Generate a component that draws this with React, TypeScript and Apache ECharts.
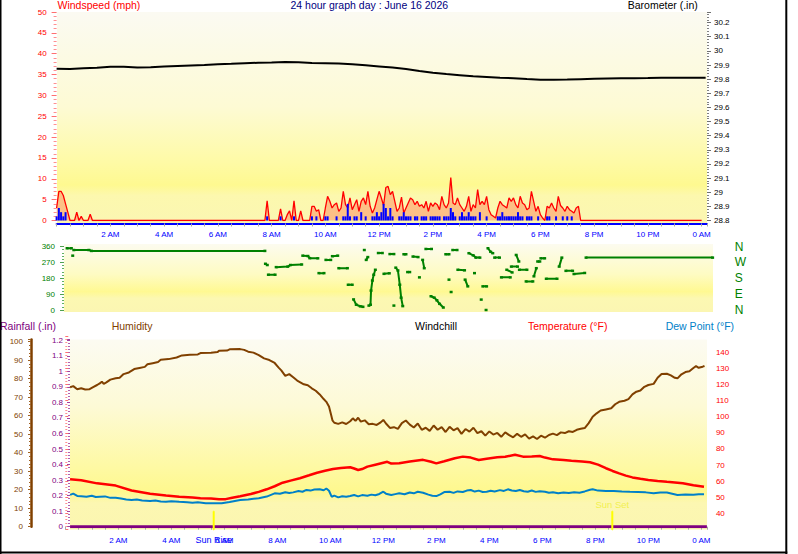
import React, { useEffect, useRef } from 'react';
import * as echarts from 'echarts';

const FONT = '"Liberation Sans", Arial, sans-serif';

// ---------- x axis tick labels ----------
const tickHours = [2, 4, 6, 8, 10, 12, 14, 16, 18, 20, 22, 24];
const tickLabels = ['2 AM', '4 AM', '6 AM', '8 AM', '10 AM', '12 PM', '2 PM', '4 PM', '6 PM', '8 PM', '10 PM', '0 AM'];

// ---------- wind (5 minute samples, one row per hour) ----------
const windStepHours = 5 / 60;
const gustByHour: number[][] = [
  [3, 7, 7, 6, 4, 2, 0, 0, 0, 2, 0, 1],
  [0, 0, 0, 1.5, 0, 0, 0, 0, 0, 0, 0, 0],
  [0, 0, 0, 0, 0, 0, 0, 0, 0, 0, 0, 0],
  [0, 0, 0, 0, 0, 0, 0, 0, 0, 0, 0, 0],
  [0, 0, 0, 0, 0, 0, 0, 0, 0, 0, 0, 0],
  [0, 0, 0, 0, 0, 0, 0, 0, 0, 0, 0, 0],
  [0, 0, 0, 0, 0, 0, 0, 0, 0, 0, 0, 0],
  [0, 0, 0, 0, 0, 0, 0, 0, 0, 0, 4.7, 0],
  [0, 0, 0, 0, 2.8, 0, 0, 1.4, 2.3, 0, 4.7, 0],
  [0, 2.3, 0, 0, 0, 0, 3.4, 3.4, 2.2, 2.6, 0, 0],
  [3, 5.8, 4.6, 3, 3.8, 4.2, 2.2, 3, 7, 3.8, 3, 5.4],
  [2.6, 3.8, 5, 2.2, 4.6, 5.4, 3.8, 7, 3.4, 1.8, 3, 5],
  [7, 5.4, 3.6, 7.9, 8.2, 6.2, 7, 4.6, 2.2, 3, 5.6, 1.8],
  [3, 4.2, 5.4, 5, 3.8, 4.6, 3.4, 3.8, 3, 4.6, 2.2, 4.2],
  [3.4, 4.2, 3.8, 2.6, 5.8, 3.8, 3, 4.2, 10.3, 4.2, 3.8, 5.4],
  [3.8, 3, 2.2, 3.4, 5.8, 2.2, 3.8, 3, 7.4, 3.8, 4.6, 3.8],
  [5.8, 2.6, 1.4, 1, 0.6, 3, 4.6, 3.8, 3.4, 3, 5.4, 4.6],
  [5.4, 3.8, 3, 5.8, 4.2, 3.8, 2.6, 3, 7, 4.6, 2.2, 3.4],
  [1.4, 0.6, 0, 3.4, 3, 4.2, 3, 2.2, 5.8, 3.6, 3, 2.2],
  [3.4, 2.6, 2.2, 1.8, 3, 3.4, 0, 0, 0, 0, 0, 0],
  [0, 0, 0, 0, 0, 0, 0, 0, 0, 0, 0, 0],
  [0, 0, 0, 0, 0, 0, 0, 0, 0, 0, 0, 0],
  [0, 0, 0, 0, 0, 0, 0, 0, 0, 0, 0, 0],
  [0, 0, 0, 0, 0, 0, 0, 0, 0, 0, 0, 0, 0],
];
const avgByHour: number[][] = [
  [1, 3, 2, 1, 2, 0, 0, 0, 0, 0, 0, 0],
  [0, 0, 0, 0, 0, 0, 0, 0, 0, 0, 0, 0],
  [0, 0, 0, 0, 0, 0, 0, 0, 0, 0, 0, 0],
  [0, 0, 0, 0, 0, 0, 0, 0, 0, 0, 0, 0],
  [0, 0, 0, 0, 0, 0, 0, 0, 0, 0, 0, 0],
  [0, 0, 0, 0, 0, 0, 0, 0, 0, 0, 0, 0],
  [0, 0, 0, 0, 0, 0, 0, 0, 0, 0, 0, 0],
  [0, 0, 0, 0, 0, 0, 0, 0, 0, 0, 1, 0],
  [0, 0, 0, 0, 1, 0, 0, 0, 0, 0, 1, 0],
  [0, 0, 0, 0, 0, 0, 1, 0, 1, 0, 0, 0],
  [1, 1, 0, 0, 0, 1, 0, 0, 1, 1, 4, 1],
  [0, 1, 1, 0, 2, 0, 1, 0, 0, 1, 1, 2],
  [1, 2, 4, 3, 1, 3, 1, 0, 0, 1, 1, 2],
  [1, 1, 1, 0, 1, 1, 0, 1, 1, 1, 0, 1],
  [1, 1, 1, 1, 0, 1, 1, 1, 3, 2, 1, 0],
  [1, 2, 1, 1, 2, 1, 1, 1, 0, 2, 0, 0],
  [1, 0, 0, 0, 0, 1, 1, 2, 1, 1, 1, 1],
  [1, 1, 2, 1, 1, 0, 1, 1, 1, 0, 0, 1],
  [0, 0, 0, 1, 1, 0, 0, 1, 0, 0, 1, 0],
  [1, 0, 1, 0, 0, 0, 0, 0, 0, 0, 0, 0],
  [0, 0, 0, 0, 0, 0, 0, 0, 0, 0, 0, 0],
  [0, 0, 0, 0, 0, 0, 0, 0, 0, 0, 0, 0],
  [0, 0, 0, 0, 0, 0, 0, 0, 0, 0, 0, 0],
  [0, 0, 0, 0, 0, 0, 0, 0, 0, 0, 0, 0],
];

// ---------- barometer [hour, inHg] ----------
const barometer: number[][] = [
  [0, 29.874], [0.5, 29.872], [1, 29.877], [1.5, 29.881], [2, 29.888], [2.5, 29.887], [3, 29.882],
  [3.5, 29.884], [4, 29.889], [4.5, 29.893], [5, 29.897], [5.5, 29.9], [6, 29.906], [6.5, 29.909],
  [7, 29.913], [7.5, 29.916], [8, 29.918], [8.5, 29.922], [9, 29.92], [9.5, 29.914], [10, 29.912],
  [10.5, 29.91], [11, 29.905], [11.5, 29.898], [12, 29.89], [12.5, 29.882], [13, 29.872], [13.5, 29.858],
  [14, 29.846], [14.5, 29.836], [15, 29.828], [15.5, 29.82], [16, 29.815], [16.5, 29.81], [17, 29.807],
  [17.5, 29.801], [18, 29.796], [18.5, 29.795], [19, 29.797], [19.5, 29.8], [20, 29.802], [20.5, 29.804],
  [21, 29.806], [21.5, 29.807], [22, 29.808], [22.5, 29.81], [23, 29.809], [23.5, 29.81], [24, 29.81], [24.15, 29.81],
];

// ---------- wind direction segments [hour, degrees] ----------
const dirSegments: number[][][] = [
  [[0.39, 350], [0.55, 350]],
  [[0.6, 308]],
  [[0.64, 340], [1.2, 340], [1.3, 335], [7.75, 335]],
  [[7.77, 262], [7.84, 255]],
  [[7.88, 200], [8.13, 200]],
  [[8.17, 243], [8.6, 246], [8.7, 255], [9.12, 258]],
  [[9.16, 308], [9.35, 306], [9.42, 294], [9.72, 293]],
  [[9.76, 209], [9.95, 209]],
  [[10.02, 284], [10.2, 284]],
  [[10.26, 305], [10.46, 308]],
  [[10.5, 237], [10.82, 237]],
  [[10.85, 143], [11.0, 143]],
  [[11.05, 60], [11.15, 30], [11.3, 21], [11.4, 18]],
  [[11.45, 340]],
  [[11.52, 284], [11.58, 300]],
  [[11.62, 25], [11.68, 30], [11.7, 110], [11.75, 167], [11.8, 200], [11.86, 228]],
  [[11.97, 323], [12.12, 323]],
  [[12.18, 205], [12.38, 208]],
  [[12.4, 317], [12.55, 317]],
  [[12.55, 25]],
  [[12.62, 240], [12.7, 224], [12.77, 143], [12.82, 70], [12.88, 22]],
  [[12.92, 316], [13.0, 316]],
  [[13.06, 215], [13.14, 215]],
  [[13.26, 303], [13.45, 300]],
  [[13.5, 185]],
  [[13.62, 284], [13.68, 237]],
  [[13.74, 346], [13.95, 346]],
  [[13.93, 78], [14.05, 70], [14.15, 55], [14.25, 35], [14.39, 14]],
  [[14.48, 316], [14.6, 316]],
  [[14.6, 172]],
  [[14.68, 102]],
  [[14.74, 340], [14.9, 340]],
  [[14.93, 228], [15.18, 225]],
  [[15.2, 172], [15.3, 134]],
  [[15.34, 322], [15.5, 310], [15.6, 297], [15.75, 297]],
  [[15.55, 209]],
  [[15.8, 59]],
  [[15.86, 134], [16.0, 134]],
  [[15.98, 0]],
  [[16.05, 350], [16.15, 330], [16.23, 322]],
  [[16.3, 297], [16.48, 297]],
  [[16.55, 185], [16.88, 185]],
  [[16.75, 228], [16.95, 213]],
  [[16.92, 246], [17.15, 246]],
  [[17.1, 312], [17.2, 275]],
  [[17.22, 228], [17.5, 228]],
  [[17.47, 162], [17.72, 162]],
  [[17.76, 191], [17.85, 237]],
  [[17.9, 275], [17.98, 275]],
  [[18.02, 293], [18.16, 293]],
  [[18.22, 177], [18.62, 177]],
  [[18.7, 246], [18.8, 297]],
  [[18.95, 222], [19.2, 222]],
  [[19.25, 204], [19.65, 210]],
  [[19.7, 297], [24.41, 297]],
];
const dirLetterValues = [0, 90, 180, 270, 360];
const dirLetters = ['N', 'E', 'S', 'W', 'N'];

// ---------- lower panel ----------
const rainfall: number[][] = [
  [0.18, 0], [2, 0], [4, 0], [6, 0], [8, 0], [10, 0], [12, 0], [14, 0], [16, 0], [18, 0], [20, 0], [22, 0], [24, 0], [24.21, 0],
];
const humidity: number[][] = [
  [0.18, 75.4], [0.3, 76], [0.45, 74.3], [0.6, 74.8], [0.75, 74.2], [0.9, 74.3], [1.05, 75.5], [1.2, 76.6], [1.3, 77.5],
  [1.38, 78.4], [1.45, 77.2], [1.55, 78], [1.7, 79.5], [1.9, 80.2], [2.05, 80.5], [2.2, 82.5], [2.4, 83.4], [2.6, 85.2],
  [2.8, 85.8], [3.0, 86.4], [3.1, 87.8], [3.3, 88.4], [3.5, 89], [3.6, 90.2], [3.9, 90.6], [4.2, 91.5], [4.4, 92.6],
  [4.7, 92.9], [5.0, 93.1], [5.1, 93.9], [5.5, 94.1], [5.75, 94.4], [5.8, 95.1], [6.1, 95.2], [6.2, 95.9], [6.6, 96],
  [6.75, 95.6], [6.9, 94.6], [7.1, 94.1], [7.3, 92.8], [7.5, 91], [7.7, 90.1], [7.9, 88.5], [8.05, 86], [8.15, 84.5],
  [8.3, 81.5], [8.45, 82.5], [8.6, 80.8], [8.75, 79], [8.85, 78.2], [9.0, 77], [9.15, 76.5], [9.3, 74.8], [9.45, 73.5],
  [9.6, 71.5], [9.75, 69], [9.85, 67.5], [9.95, 65], [10.02, 61], [10.08, 57.5], [10.15, 56.2], [10.3, 55.6],
  [10.45, 56.4], [10.6, 55.5], [10.75, 57], [10.85, 58.6], [10.95, 57.2], [11.05, 58.9], [11.15, 56.8], [11.3, 57.5],
  [11.45, 55.4], [11.6, 55.6], [11.75, 55], [11.9, 56.4], [12.0, 57.7], [12.1, 55.8], [12.25, 53.4], [12.4, 53.8],
  [12.55, 52.9], [12.7, 56], [12.85, 57.4], [13.0, 55.2], [13.15, 53.6], [13.3, 55.8], [13.45, 52.4], [13.6, 53.5],
  [13.75, 51.8], [13.9, 54.7], [14.05, 52.4], [14.2, 53.8], [14.35, 51.2], [14.5, 54], [14.65, 52.1], [14.8, 53.3],
  [14.95, 50.2], [15.1, 52.8], [15.25, 51.4], [15.4, 53.5], [15.55, 50.6], [15.7, 51.6], [15.85, 49.2], [16.0, 51.5],
  [16.15, 49.8], [16.3, 50.7], [16.45, 48.6], [16.6, 51], [16.75, 49.5], [16.9, 48.3], [17.05, 50.2], [17.2, 48.6],
  [17.35, 49.9], [17.5, 47.6], [17.65, 48.8], [17.8, 47.4], [17.95, 49.2], [18.1, 48.1], [18.25, 49.6], [18.4, 50.3],
  [18.55, 49.5], [18.7, 51], [18.85, 50.6], [19.0, 51.6], [19.15, 51.2], [19.3, 52.4], [19.45, 52.9], [19.6, 53.3],
  [19.75, 56], [19.9, 59.4], [20.05, 61.3], [20.2, 62.8], [20.4, 63.4], [20.6, 64], [20.75, 66.2], [20.9, 67.5],
  [21.1, 68.1], [21.25, 69], [21.4, 71.5], [21.55, 73], [21.7, 73.6], [21.85, 75.6], [22.0, 76.6], [22.2, 77.2],
  [22.35, 80.5], [22.5, 82.5], [22.7, 82.7], [22.85, 81.8], [23.0, 80.5], [23.1, 80.2], [23.25, 82.4], [23.4, 83.6],
  [23.55, 84], [23.7, 85.8], [23.8, 86.8], [23.9, 85.9], [24.05, 86.5], [24.12, 86.9],
];
const temperature: number[][] = [
  [0.18, 61.1], [0.6, 60.5], [1.2, 58.6], [1.9, 57.2], [2.5, 54.2], [3.2, 52.2], [3.8, 51.1], [4.3, 50.3], [4.8, 49.8],
  [5.1, 49.4], [5.5, 49.2], [5.8, 48.7], [6.05, 48.8], [6.3, 49.7], [6.6, 50.6], [7.0, 52], [7.3, 53.3], [7.6, 54.9],
  [7.9, 56.8], [8.2, 59], [8.5, 60.3], [8.85, 61.8], [9.2, 63.6], [9.5, 65.2], [9.8, 66.4], [10.1, 67.5], [10.4, 68.1],
  [10.75, 68.6], [10.9, 67.8], [11.05, 66.9], [11.2, 67.5], [11.4, 69], [11.7, 70.2], [12.0, 71.4], [12.15, 72],
  [12.3, 70.9], [12.6, 71.1], [13.0, 72.2], [13.5, 73.2], [13.8, 72], [14.0, 71], [14.3, 72.3], [14.7, 74.2],
  [15.0, 75.2], [15.3, 74.6], [15.6, 73.1], [15.9, 73.9], [16.3, 74.8], [16.6, 75.1], [16.97, 76.4], [17.27, 75.2],
  [17.6, 75.3], [17.9, 75.6], [18.1, 74.6], [18.4, 73.5], [18.8, 73.1], [19.1, 72.7], [19.5, 72.2], [19.8, 71.7],
  [20.1, 70.2], [20.4, 68], [20.65, 66.3], [20.9, 64.8], [21.15, 63.4], [21.4, 62.3], [21.7, 61.4], [22.0, 60.7],
  [22.35, 60.1], [22.7, 59.6], [23.0, 59.2], [23.3, 58.6], [23.7, 57.4], [24.1, 56.5],
];
const dewPoint: number[][] = [
  [0.18, 51.4], [0.3, 52.2], [0.45, 50.8], [0.6, 50.6], [0.8, 50.3], [1.0, 50.9], [1.15, 50.1], [1.3, 50.3], [1.5, 50.5],
  [1.7, 49.6], [1.9, 49.7], [2.1, 49.2], [2.3, 48.6], [2.5, 48.3], [2.7, 48.6], [2.9, 47.9], [3.2, 47.6], [3.4, 47.9],
  [3.6, 47.3], [3.8, 47.2], [4.0, 47.5], [4.3, 47.1], [4.6, 46.9], [4.8, 46.6], [5.0, 46.9], [5.3, 46.3], [5.6, 46.2],
  [5.9, 46.2], [6.2, 47], [6.4, 47.7], [6.6, 48.3], [6.9, 48.6], [7.1, 49], [7.3, 49.3], [7.6, 50.4], [7.9, 52.4],
  [8.1, 52.1], [8.3, 53.1], [8.45, 52.6], [8.6, 53], [8.8, 53.8], [8.95, 53.4], [9.1, 54.5], [9.25, 54.1], [9.4, 54.8],
  [9.6, 54.9], [9.75, 54.3], [9.85, 55.4], [9.95, 54], [10.05, 50.3], [10.15, 51], [10.3, 49.9], [10.45, 50.6],
  [10.6, 50.3], [10.75, 50.7], [10.9, 51.4], [11.05, 50.5], [11.2, 51.3], [11.4, 50.9], [11.55, 51.6], [11.7, 51.2],
  [11.85, 52], [12.0, 53.4], [12.1, 52.2], [12.3, 51.4], [12.45, 51.9], [12.6, 52.4], [12.8, 51.8], [13.0, 52.9],
  [13.15, 52.4], [13.3, 53.4], [13.5, 52.8], [13.7, 51.6], [13.85, 50.9], [14.0, 50.7], [14.15, 51.8], [14.3, 53.2],
  [14.5, 53.4], [14.65, 52.7], [14.8, 53.6], [15.0, 53.2], [15.15, 54.1], [15.3, 54.5], [15.45, 53.5], [15.6, 54.1],
  [15.75, 53.2], [15.9, 53.4], [16.05, 54], [16.2, 53.6], [16.4, 54.4], [16.55, 53.9], [16.7, 54.9], [16.85, 54.2],
  [17.0, 53.8], [17.15, 54.5], [17.3, 53.7], [17.45, 53.4], [17.6, 54.2], [17.75, 53.3], [17.9, 53.7], [18.1, 53.4],
  [18.25, 52.8], [18.4, 53.1], [18.6, 52.4], [18.8, 52.9], [19.0, 52.6], [19.2, 53.1], [19.4, 52.8], [19.6, 53.6],
  [19.8, 54.6], [19.9, 54.9], [20.1, 54.1], [20.4, 53.8], [20.7, 53.9], [21.0, 53.6], [21.3, 53.4], [21.6, 53.3],
  [21.9, 53], [22.2, 52.4], [22.45, 52.9], [22.7, 52.9], [22.9, 52.2], [23.1, 51.4], [23.4, 51.7], [23.7, 51.5],
  [23.9, 51.9], [24.1, 51.8],
];
const sunRiseHour = 5.6;
const sunSetHour = 20.64;

// ---------- helpers ----------
const timeLabel = (v: number) => {
  const i = tickHours.indexOf(Math.round(v * 1000) / 1000);
  return i >= 0 ? tickLabels[i] : '';
};
const fmtStep = (step: number, maxShown: number, minShown: number) => (v: number) => {
  if (v > maxShown + 1e-6 || v < minShown - 1e-6) return '';
  const r = Math.round(v / step);
  if (Math.abs(v / step - r) > 1e-6) return '';
  return String(Math.round(r * step * 1000) / 1000);
};

const grad = (stops: [number, string][]) =>
  new echarts.graphic.LinearGradient(0, 0, 0, 1, stops.map(([offset, color]) => ({ offset, color })));

const BREAK = ['-', '-'];

export default function App() {
  const ref = useRef<HTMLDivElement>(null);

  useEffect(() => {
    if (!ref.current) return;
    const chart = echarts.init(ref.current, null, { renderer: 'svg' });

    const gustData: number[][] = [];
    gustByHour.flat().forEach((v, i) => gustData.push([i * windStepHours, v]));
    const avgData: number[][] = [];
    avgByHour.flat().forEach((v, i) => avgData.push([i * windStepHours, v]));

    const dirData: any[] = [];
    dirSegments.forEach((seg, k) => {
      if (k > 0) dirData.push(BREAK);
      seg.forEach((p) => dirData.push(p));
    });

    const xLabel = { color: '#0000ff', fontSize: 8, fontFamily: FONT, formatter: timeLabel };
    const grayTick = { show: true, length: 3, lineStyle: { color: '#a8a8a8' } };

    const headerText = (text: string, x: number, y: number, fill: string) => ({
      type: 'text',
      x,
      y,
      z: 50,
      style: { text, fill, fontSize: 10.5, fontFamily: FONT, verticalAlign: 'middle', align: 'left' },
    });

    const option: any = {
      animation: false,
      backgroundColor: '#ffffff',
      textStyle: { fontFamily: FONT },
      grid: [
        { left: 56.6, top: 12, width: 650.4, height: 208.5 },
        { left: 56.6, top: 246.5, width: 657.1, height: 63.5 },
        { left: 65.3, top: 339.5, width: 641.6, height: 187.2 },
        { left: 65.3, top: 336.2, width: 641.6, height: 193.2 },
      ],
      xAxis: [
        {
          type: 'value', gridIndex: 0, min: 0, max: 24.2, interval: 2, offset: 3,
          axisLine: { show: true, onZero: false, lineStyle: { color: '#0000ff', width: 2 } },
          axisTick: grayTick,
          minorTick: { show: true, splitNumber: 4, length: 3, lineStyle: { color: '#a8a8a8' } },
          axisLabel: { ...xLabel, margin: 7 },
          splitLine: { show: false },
        },
        {
          type: 'value', gridIndex: 1, min: 0, max: 24.45, show: false,
        },
        {
          type: 'value', gridIndex: 2, min: 0, max: 24.21, interval: 2,
          axisLine: { show: false, onZero: false },
          axisTick: grayTick,
          minorTick: { show: true, splitNumber: 4, length: 3, lineStyle: { color: '#a8a8a8' } },
          axisLabel: { ...xLabel, margin: 9.5 },
          splitLine: { show: false },
        },
        {
          type: 'value', gridIndex: 3, min: 0, max: 24.21, show: false,
        },
      ],
      yAxis: [
        {
          type: 'value', gridIndex: 0, position: 'left', min: 0, max: 50, interval: 5,
          axisLine: { show: false },
          axisTick: { show: true, length: 5, lineStyle: { color: '#ff7070' } },
          minorTick: { show: true, splitNumber: 5, length: 3, lineStyle: { color: '#ff9090' } },
          axisLabel: { color: '#ff0000', fontSize: 8, fontFamily: FONT, margin: 10 },
          splitLine: { show: false },
        },
        {
          type: 'value', gridIndex: 0, position: 'right', min: 28.8, max: 30.275, interval: 0.1,
          axisLine: { show: false },
          axisTick: { show: true, length: 4, lineStyle: { color: '#707070' } },
          minorTick: { show: true, splitNumber: 5, length: 2, lineStyle: { color: '#808080' } },
          axisLabel: { color: '#000000', fontSize: 8, fontFamily: FONT, margin: 7, formatter: fmtStep(0.1, 30.2, 28.8) },
          splitLine: { show: false },
        },
        {
          type: 'value', gridIndex: 1, position: 'left', min: 0, max: 360, interval: 90, offset: -7.4,
          axisLine: { show: false },
          axisTick: { show: true, length: 4, lineStyle: { color: '#50a050' } },
          minorTick: { show: true, splitNumber: 5, length: 2, lineStyle: { color: '#60b060' } },
          axisLabel: { color: '#008000', fontSize: 8, fontFamily: FONT, margin: 9 },
          splitLine: { show: false },
        },
        {
          type: 'value', gridIndex: 1, position: 'right', min: 0, max: 360, interval: 90, offset: 21,
          axisLine: { show: false },
          axisTick: { show: false },
          axisLabel: {
            color: '#008000', fontSize: 12, fontFamily: FONT, margin: 0,
            formatter: (v: number) => {
              const i = dirLetterValues.indexOf(v);
              return i >= 0 ? dirLetters[i] : '';
            },
          },
          splitLine: { show: false },
        },
        {
          type: 'value', gridIndex: 2, position: 'left', min: 0, max: 1.205, interval: 0.1, offset: -4.7,
          axisLine: { show: false },
          axisTick: { show: true, length: 3, lineStyle: { color: '#a040a0' } },
          minorTick: { show: true, splitNumber: 5, length: 2, lineStyle: { color: '#b060b0' } },
          axisLabel: { color: '#800080', fontSize: 8, fontFamily: FONT, margin: 7, formatter: fmtStep(0.1, 1.2, 0) },
          splitLine: { show: false },
        },
        {
          type: 'value', gridIndex: 2, position: 'left', min: 0, max: 101.2, interval: 10, offset: 34.3,
          axisLine: { show: true, lineStyle: { color: '#804000', width: 2.5 } },
          axisTick: { show: true, length: 3, lineStyle: { color: '#a06020' } },
          minorTick: { show: true, splitNumber: 5, length: 2, lineStyle: { color: '#a06020' } },
          axisLabel: { color: '#804000', fontSize: 8, fontFamily: FONT, margin: 8, formatter: fmtStep(10, 100, 0) },
          splitLine: { show: false },
        },
        {
          type: 'value', gridIndex: 3, position: 'right', min: 30, max: 150, interval: 10, offset: 1,
          axisLine: { show: false },
          axisTick: { show: true, length: 3, lineStyle: { color: '#ff7070' } },
          minorTick: { show: true, splitNumber: 5, length: 2, lineStyle: { color: '#ff9090' } },
          axisLabel: { color: '#ff0000', fontSize: 8, fontFamily: FONT, margin: 8, formatter: fmtStep(10, 140, 40) },
          splitLine: { show: false },
        },
      ],
      graphic: {
        elements: [
          { type: 'rect', z: -5, shape: { x: 57, y: 12, width: 650, height: 211 },
            style: { fill: grad([[0, '#fbfaf2'], [0.45, '#fdfad4'], [0.72, '#fefaa4'], [0.82, '#fef990'], [0.87, '#fcf8ae'], [1, '#fbf6b2']]) } },
          { type: 'rect', z: -5, shape: { x: 64, y: 244, width: 649, height: 68 },
            style: { fill: grad([[0, '#fcfbef'], [0.45, '#fefbc2'], [0.7, '#fff992'], [0.8, '#fcf8b2'], [1, '#fbf6b2']]) } },
          { type: 'rect', z: -5, shape: { x: 70, y: 339.5, width: 637, height: 190 },
            style: { fill: grad([[0, '#fcfbf2'], [0.35, '#fdfad6'], [0.68, '#fef9a2'], [0.8, '#fef88e'], [0.86, '#fcf7b2'], [1, '#fbf6b0']]) } },
          headerText('Windspeed (mph)', 57.5, 4.8, '#ff0000'),
          headerText('24 hour graph day : June 16 2026', 290.5, 4.8, '#000080'),
          headerText('Barometer (.in)', 627.7, 4.8, '#000000'),
          headerText('Rainfall (.in)', 0, 325.6, '#800080'),
          headerText('Humidity', 111.7, 325.6, '#804000'),
          headerText('Windchill', 415, 325.6, '#000000'),
          headerText('Temperature (°F)', 528, 325.6, '#ff0000'),
          headerText('Dew Point (°F)', 665.7, 325.6, '#0080c8'),
          { type: 'rect', z: 60, shape: { x: 0, y: 0, width: 1.5, height: 554 }, style: { fill: '#000000' } },
          { type: 'rect', z: 60, shape: { x: 785.3, y: 0, width: 2, height: 554 }, style: { fill: '#000000' } },
          { type: 'rect', z: 60, shape: { x: 0, y: 551.6, width: 787.3, height: 2 }, style: { fill: '#000000' } },
        ],
      },
      series: [
        {
          name: 'Wind Gust', type: 'line', xAxisIndex: 0, yAxisIndex: 0, data: gustData, symbol: 'none', z: 3,
          lineStyle: { color: '#ff0000', width: 1.3 },
          areaStyle: { color: 'rgba(255,40,20,0.38)' },
        },
        {
          name: 'Wind Speed', type: 'bar', xAxisIndex: 0, yAxisIndex: 0, data: avgData, barWidth: 2, z: 4,
          itemStyle: { color: '#0000ff' },
        },
        {
          name: 'Barometer', type: 'line', xAxisIndex: 0, yAxisIndex: 1, data: barometer, symbol: 'none', z: 5,
          lineStyle: { color: '#000000', width: 2 },
        },
        {
          name: 'Wind Direction', type: 'line', xAxisIndex: 1, yAxisIndex: 2, data: dirData, z: 3,
          symbol: 'rect', symbolSize: [3, 2.5], showSymbol: true, connectNulls: false,
          itemStyle: { color: '#008000' },
          lineStyle: { color: '#008000', width: 2 },
        },
        {
          name: 'Rainfall', type: 'line', xAxisIndex: 2, yAxisIndex: 4, data: rainfall, symbol: 'none', z: 6,
          lineStyle: { color: '#800080', width: 3 },
        },
        {
          name: 'Humidity', type: 'line', xAxisIndex: 2, yAxisIndex: 5, data: humidity, symbol: 'none', z: 4,
          lineStyle: { color: '#804000', width: 2 },
        },
        {
          name: 'Temperature', type: 'line', xAxisIndex: 3, yAxisIndex: 6, data: temperature, symbol: 'none', z: 5,
          lineStyle: { color: '#ff0000', width: 2.5 },
        },
        {
          name: 'Dew Point', type: 'line', xAxisIndex: 3, yAxisIndex: 6, data: dewPoint, symbol: 'none', z: 5,
          lineStyle: { color: '#0080c8', width: 2 },
        },
        {
          name: 'Sun', type: 'line', xAxisIndex: 2, yAxisIndex: 4, clip: false, z: 7,
          symbol: 'circle', symbolSize: 1, showSymbol: true, connectNulls: false,
          itemStyle: { color: '#ffff00' },
          lineStyle: { color: '#ffff00', width: 2 },
          data: [
            {
              value: [sunRiseHour, -0.02],
              label: { show: true, position: 'bottom', distance: 5, formatter: 'Sun Rise', color: '#0000ff', fontSize: 9, fontFamily: FONT },
            },
            { value: [sunRiseHour, 0.1] },
            { value: BREAK },
            { value: [sunSetHour, -0.02] },
            {
              value: [sunSetHour, 0.1],
              label: { show: true, position: 'top', distance: 1, formatter: 'Sun Set', color: '#f2f050', fontSize: 9.5, fontFamily: FONT },
            },
          ],
        },
      ],
    };

    chart.setOption(option);
    return () => chart.dispose();
  }, []);

  return (
    <div
      ref={ref}
      style={{ position: 'fixed', left: 0, top: 0, width: 798, height: 554, background: '#ffffff' }}
    />
  );
}
